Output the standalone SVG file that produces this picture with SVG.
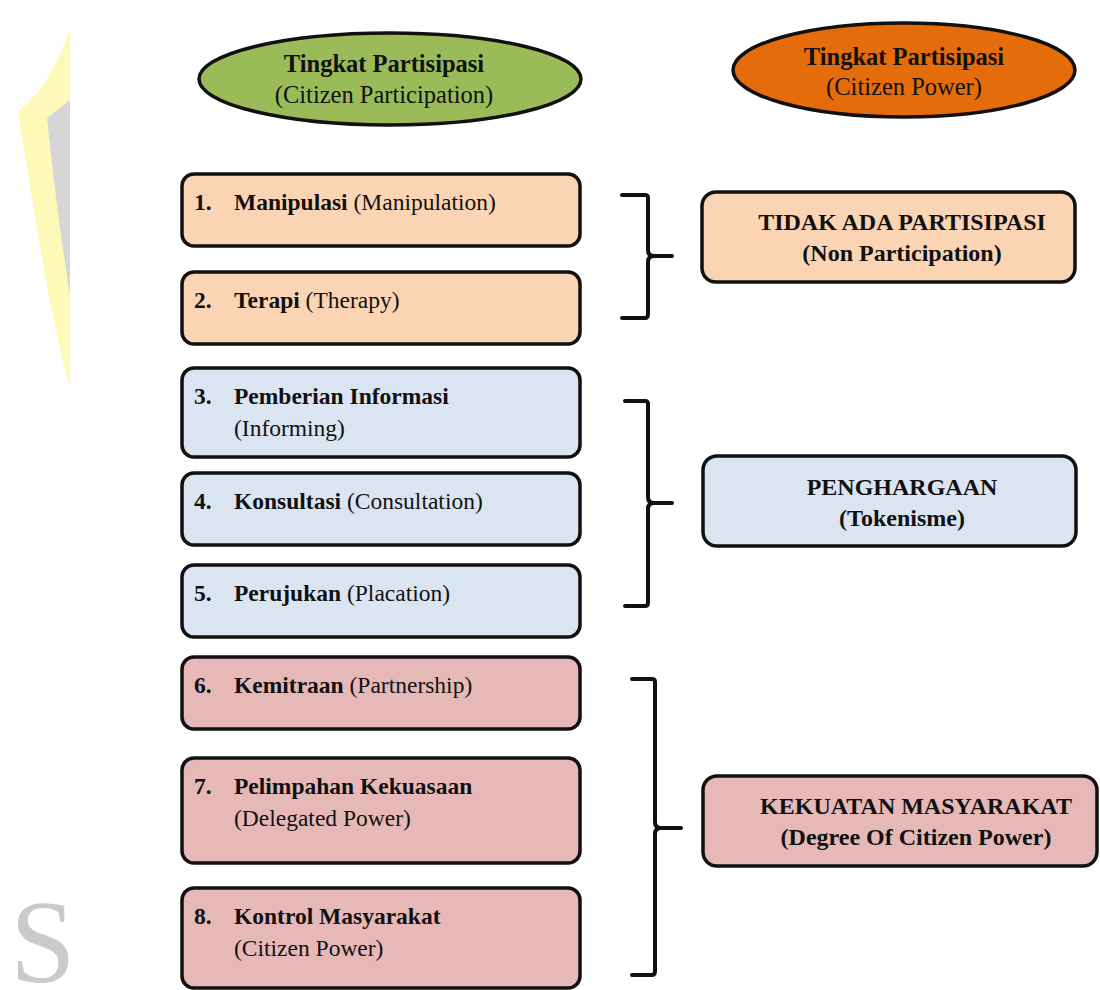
<svg xmlns="http://www.w3.org/2000/svg" width="1100" height="990" viewBox="0 0 1100 990">
<style>
.t{font-family:"Liberation Serif","Times New Roman",serif;font-size:23.5px;fill:#111}
.h{font-size:24.5px}
.r{font-size:24px}
.b{font-weight:bold}
.box{stroke:#111;stroke-width:3.5}
.peach{fill:#FBD4B4}
.blue{fill:#DBE5F1}
.pink{fill:#E6B9B8}
.br{fill:none;stroke:#111;stroke-width:4;stroke-linejoin:round;stroke-linecap:round}
</style>
<rect width="1100" height="990" fill="#fff"/>
<g id="watermark">
<path d="M70,28 C60,62 40,95 18,112 C32,195 46,300 70,388 Z" fill="#FEF9B8"/>
<path d="M47,118 C53,175 61,240 70,295 L70,100 C62,106 55,112 47,118 Z" fill="#D6D6D6"/>
<text x="10" y="982" font-family="Liberation Serif,serif" font-size="118" fill="#CACACA">S</text>
</g>
<g id="head-left">
<ellipse cx="390" cy="79" rx="191" ry="46" fill="#9BBB59" stroke="#111" stroke-width="3.5"/>
<text class="t h b" x="384" y="72" text-anchor="middle">Tingkat Partisipasi</text>
<text class="t h" x="384" y="103" text-anchor="middle">(Citizen Participation)</text>
</g>
<g id="head-right">
<ellipse cx="904" cy="70" rx="171" ry="47" fill="#E46C0A" stroke="#111" stroke-width="3.5"/>
<text class="t h b" x="904" y="65" text-anchor="middle">Tingkat Partisipasi</text>
<text class="t h" x="904" y="95" text-anchor="middle">(Citizen Power)</text>
</g>
<g id="n1"><rect class="box peach" x="182" y="174" width="398" height="72" rx="12"/>
<text class="t" y="210"><tspan class="b" x="194">1.</tspan><tspan class="b" x="234">Manipulasi</tspan> (Manipulation)</text></g>
<g id="n2"><rect class="box peach" x="182" y="272" width="398" height="72" rx="12"/>
<text class="t" y="308"><tspan class="b" x="194">2.</tspan><tspan class="b" x="234">Terapi</tspan> (Therapy)</text></g>
<g id="n3"><rect class="box blue" x="182" y="368" width="398" height="89" rx="12"/>
<text class="t" y="404"><tspan class="b" x="194">3.</tspan><tspan class="b" x="234">Pemberian Informasi</tspan></text>
<text class="t" x="234" y="436">(Informing)</text></g>
<g id="n4"><rect class="box blue" x="182" y="473" width="398" height="72" rx="12"/>
<text class="t" y="509"><tspan class="b" x="194">4.</tspan><tspan class="b" x="234">Konsultasi</tspan> (Consultation)</text></g>
<g id="n5"><rect class="box blue" x="182" y="565" width="398" height="72" rx="12"/>
<text class="t" y="601"><tspan class="b" x="194">5.</tspan><tspan class="b" x="234">Perujukan</tspan> (Placation)</text></g>
<g id="n6"><rect class="box pink" x="182" y="657" width="398" height="72" rx="12"/>
<text class="t" y="693"><tspan class="b" x="194">6.</tspan><tspan class="b" x="234">Kemitraan</tspan> (Partnership)</text></g>
<g id="n7"><rect class="box pink" x="182" y="758" width="398" height="105" rx="12"/>
<text class="t" y="794"><tspan class="b" x="194">7.</tspan><tspan class="b" x="234">Pelimpahan Kekuasaan</tspan></text>
<text class="t" x="234" y="826">(Delegated Power)</text></g>
<g id="n8"><rect class="box pink" x="182" y="888" width="398" height="100" rx="12"/>
<text class="t" y="924"><tspan class="b" x="194">8.</tspan><tspan class="b" x="234">Kontrol Masyarakat</tspan></text>
<text class="t" x="234" y="956">(Citizen Power)</text></g>
<g id="r1"><rect class="box peach" x="702" y="192" width="373" height="90" rx="14"/>
<text class="t r b" x="902" y="230" text-anchor="middle">TIDAK ADA PARTISIPASI</text>
<text class="t r b" x="902" y="261" text-anchor="middle">(Non Participation)</text></g>
<g id="r2"><rect class="box blue" x="703" y="456" width="373" height="90" rx="14"/>
<text class="t r b" x="902" y="495" text-anchor="middle">PENGHARGAAN</text>
<text class="t r b" x="902" y="526" text-anchor="middle">(Tokenisme)</text></g>
<g id="r3"><rect class="box pink" x="703" y="776" width="394" height="90" rx="14"/>
<text class="t r b" x="916" y="814" text-anchor="middle">KEKUATAN MASYARAKAT</text>
<text class="t r b" x="916" y="845" text-anchor="middle">(Degree Of Citizen Power)</text></g>
<g id="connectors">
<path class="br" d="M622,195 H645 Q648,195 648,198 V250 Q648,256 654,256 H672 M654,256 Q648,256 648,262 V314 Q648,318 645,318 H622"/>
<path class="br" d="M625,401 H645 Q648,401 648,404 V497 Q648,503 654,503 H672 M654,503 Q648,503 648,509 V603 Q648,606 645,606 H625"/>
<path class="br" d="M632,679 H652 Q655,679 655,682 V822 Q655,828 661,828 H681 M661,828 Q655,828 655,834 V971 Q655,975 652,975 H632"/>
</g>
</svg>
